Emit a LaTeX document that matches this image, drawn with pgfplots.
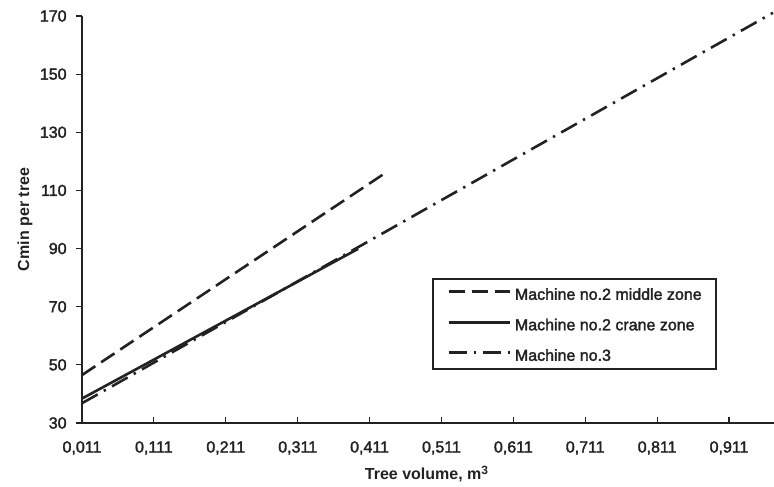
\documentclass[border=0pt]{standalone}
\usepackage{fontspec}
\setmainfont{Liberation Sans}[UprightFeatures={FakeBold=2}]
\usepackage{pgfplots}
\pgfplotsset{compat=1.18}
\definecolor{ink}{HTML}{222222}
\begin{document}
\fontsize{8pt}{9.6pt}\selectfont
\begin{tikzpicture}
\begin{axis}[
  at={(0,0)}, anchor=south west,
  scale only axis, width=346pt, height=203.5pt,
  xmin=0.011, xmax=0.9735, ymin=30, ymax=170,
  axis lines*=left,
  axis line style={ink, line width=0.7pt},
  clip=false,
  xtick={0.011,0.111,0.211,0.311,0.411,0.511,0.611,0.711,0.811,0.911},
  xticklabels={{0,011},{0,111},{0,211},{0,311},{0,411},{0,511},{0,611},{0,711},{0,811},{0,911}},
  ytick={30,50,70,90,110,130,150,170},
  yticklabels={30,50,70,90,110,130,150,170},
  tick align=inside, major tick length=3pt,
  tick style={ink, line width=0.6pt},
  ytick style={xshift=-3pt},
  xticklabel style={anchor=base, inner sep=0pt, yshift=-14.75pt, text=ink},
  yticklabel style={anchor=east, inner sep=0pt, xshift=-7.5pt, text=ink},
  xlabel={\textbf{Tree volume, m\textsuperscript{3}}},
  ylabel={\textbf{Cmin per tree}},
  every axis x label/.style={at={(axis description cs:0.4986,-0.140)}, anchor=base, text=ink},
  every axis y label/.style={at={(axis description cs:-0.0824,0.5)}, anchor=center, rotate=90, text=ink},
  legend style={at={(0.5058,0.3563)}, anchor=north west, draw=ink, line width=0.8pt,
    inner xsep=7.25pt, inner ysep=4pt, row sep=8.75pt, column sep=2pt,
    nodes={inner sep=0pt, text height=6.5pt, text depth=0pt, text=ink},
    font=\fontsize{8pt}{9.6pt}\selectfont},
  legend cell align=left,
  legend image code/.code={\draw[#1] (0pt,0.75pt) -- (30.5pt,0.75pt);},
]
\addplot[ink, line width=1.3pt, dash pattern=on 8pt off 3.5pt] coordinates {(0.011,46.5) (0.431,115.7)};
\addlegendentry{Machine no.2 middle zone}
\addplot[ink, line width=1.3pt] coordinates {(0.011,38.4) (0.395,89.9)};
\addlegendentry{Machine no.2 crane zone}
\addplot[ink, line width=1.3pt, dash pattern=on 9pt off 3.5pt on 1.2pt off 3.5pt] coordinates {(0.011,36.8) (0.972,171.1)};
\addlegendentry{Machine no.3}
\end{axis}
\pgfresetboundingbox
\path (-41pt,-31.5pt) rectangle (346pt,211.5pt);
\end{tikzpicture}
\end{document}
